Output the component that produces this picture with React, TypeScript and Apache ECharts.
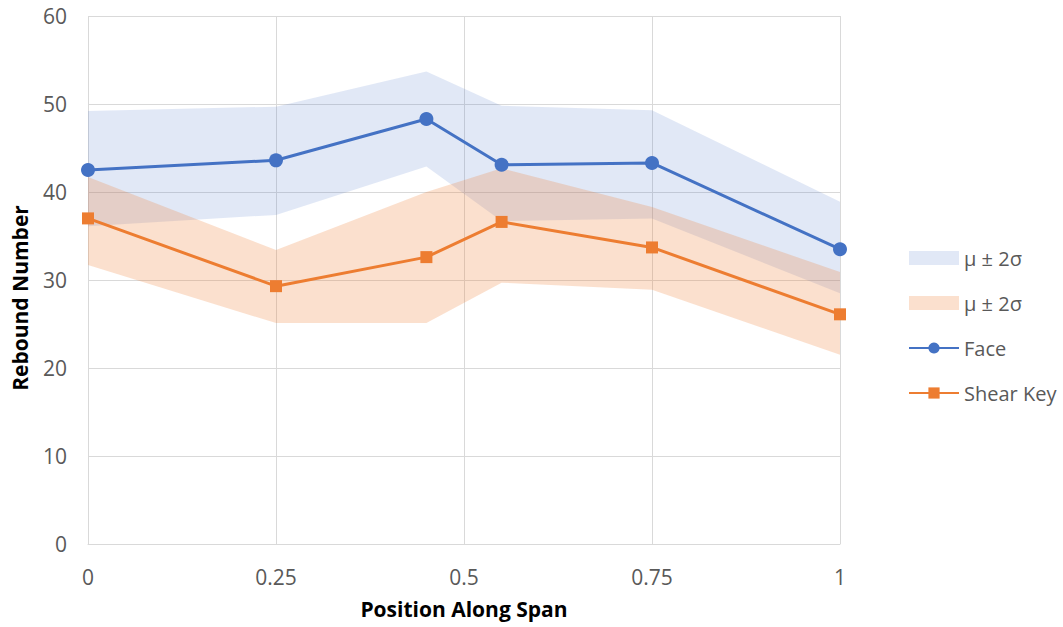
import React, { useEffect, useRef } from "react";
import * as echarts from "echarts";

// Positions along the span (0 = one end, 1 = the other)
const positions = [0, 0.25, 0.45, 0.55, 0.75, 1];

// Mean rebound numbers
const face = [42.5, 43.6, 48.3, 43.1, 43.3, 33.5];
const shearKey = [37.0, 29.3, 32.6, 36.6, 33.7, 26.1];

// μ ± 2σ envelopes
const faceUpper = [49.2, 49.7, 53.7, 49.8, 49.3, 38.9];
const faceLower = [36.1, 37.4, 42.9, 36.7, 37.0, 28.5];
const shearUpper = [41.7, 33.4, 40.0, 42.7, 38.3, 30.9];
const shearLower = [31.7, 25.1, 25.1, 29.7, 28.9, 21.5];

const xTicks = [0, 0.25, 0.5, 0.75, 1];
const yTicks = [0, 10, 20, 30, 40, 50, 60];

const BLUE = "#4472C4";
const ORANGE = "#ED7D31";
const BLUE_BAND = "rgba(68,114,196,0.16)";
const ORANGE_BAND = "rgba(237,125,49,0.24)";
const FONT = "'Open Sans', 'Liberation Sans', sans-serif";
const W = 1063;
const H = 627;

const pairs = (ys: number[]) => positions.map((x, i) => [x, ys[i]]);

const bandNames: Record<string, string> = {
  faceBand: "μ ± 2σ",
  shearBand: "μ ± 2σ",
};

// Envelope drawn as one filled polygon: upper edge left→right, lower edge right→left
function bandSeries(name: string, lo: number[], hi: number[], color: string) {
  return {
    name,
    type: "custom",
    silent: true,
    z: 1,
    itemStyle: { color },
    data: positions.map((x, i) => [x, lo[i], hi[i]]),
    encode: { x: 0, y: [1, 2] },
    renderItem: (params: any, api: any) => {
      if (params.dataIndex !== 0) return null;
      const top = positions.map((x, i) => api.coord([x, hi[i]]));
      const bottom = positions.map((x, i) => api.coord([x, lo[i]])).reverse();
      return {
        type: "polygon",
        shape: { points: [...top, ...bottom] },
        style: { fill: color },
      };
    },
  };
}

export default function App() {
  const ref = useRef<HTMLDivElement>(null);

  useEffect(() => {
    if (!ref.current) return;
    const chart = echarts.init(ref.current, null, { renderer: "svg" });
    chart.setOption({
      animation: false,
      backgroundColor: "#ffffff",
      grid: { left: 88, right: 223, top: 16, bottom: 83, containLabel: false },
      xAxis: {
        type: "value",
        min: xTicks[0],
        max: xTicks[xTicks.length - 1],
        interval: 0.25,
        name: "Position Along Span",
        nameLocation: "middle",
        nameGap: 54,
        nameTextStyle: { fontFamily: FONT, fontSize: 21, fontWeight: "bold", color: "#000" },
        axisLine: { show: true, lineStyle: { color: "#d9d9d9", width: 1 } },
        axisTick: { show: false },
        axisLabel: { fontFamily: FONT, fontSize: 21, color: "#595959", margin: 22 },
        splitLine: { show: true, lineStyle: { color: "#d9d9d9", width: 1 } },
      },
      yAxis: {
        type: "value",
        min: yTicks[0],
        max: yTicks[yTicks.length - 1],
        interval: 10,
        axisLine: { show: false },
        axisTick: { show: false },
        axisLabel: { fontFamily: FONT, fontSize: 21, color: "#595959", margin: 21 },
        splitLine: { show: true, lineStyle: { color: "#d9d9d9", width: 1 } },
      },
      graphic: [
        {
          type: "text",
          x: 20,
          y: 298,
          rotation: Math.PI / 2,
          style: {
            text: "Rebound Number",
            fontFamily: FONT,
            fontSize: 21,
            fontWeight: "bold",
            fill: "#000",
            align: "center",
            verticalAlign: "middle",
          },
        },
      ],
      legend: {
        orient: "vertical",
        left: 903,
        top: 243,
        itemWidth: 50,
        itemHeight: 14,
        itemGap: 25,
        textStyle: { fontFamily: FONT, fontSize: 20, color: "#595959" },
        formatter: (n: string) => bandNames[n] ?? n,
        data: [
          { name: "faceBand", icon: "rect", itemStyle: { color: BLUE_BAND } },
          { name: "shearBand", icon: "rect", itemStyle: { color: ORANGE_BAND } },
          { name: "Face" },
          { name: "Shear Key" },
        ],
      },
      series: [
        bandSeries("faceBand", faceLower, faceUpper, BLUE_BAND),
        bandSeries("shearBand", shearLower, shearUpper, ORANGE_BAND),
        {
          name: "Face",
          type: "line",
          data: pairs(face),
          symbol: "circle",
          symbolSize: 14,
          lineStyle: { color: BLUE, width: 3 },
          itemStyle: { color: BLUE },
          z: 3,
        },
        {
          name: "Shear Key",
          type: "line",
          data: pairs(shearKey),
          symbol: "rect",
          symbolSize: 12,
          lineStyle: { color: ORANGE, width: 3 },
          itemStyle: { color: ORANGE },
          z: 3,
        },
      ],
    });
    return () => chart.dispose();
  }, []);

  return (
    <div
      ref={ref}
      style={{ position: "fixed", left: 0, top: 0, width: W, height: H }}
    />
  );
}
